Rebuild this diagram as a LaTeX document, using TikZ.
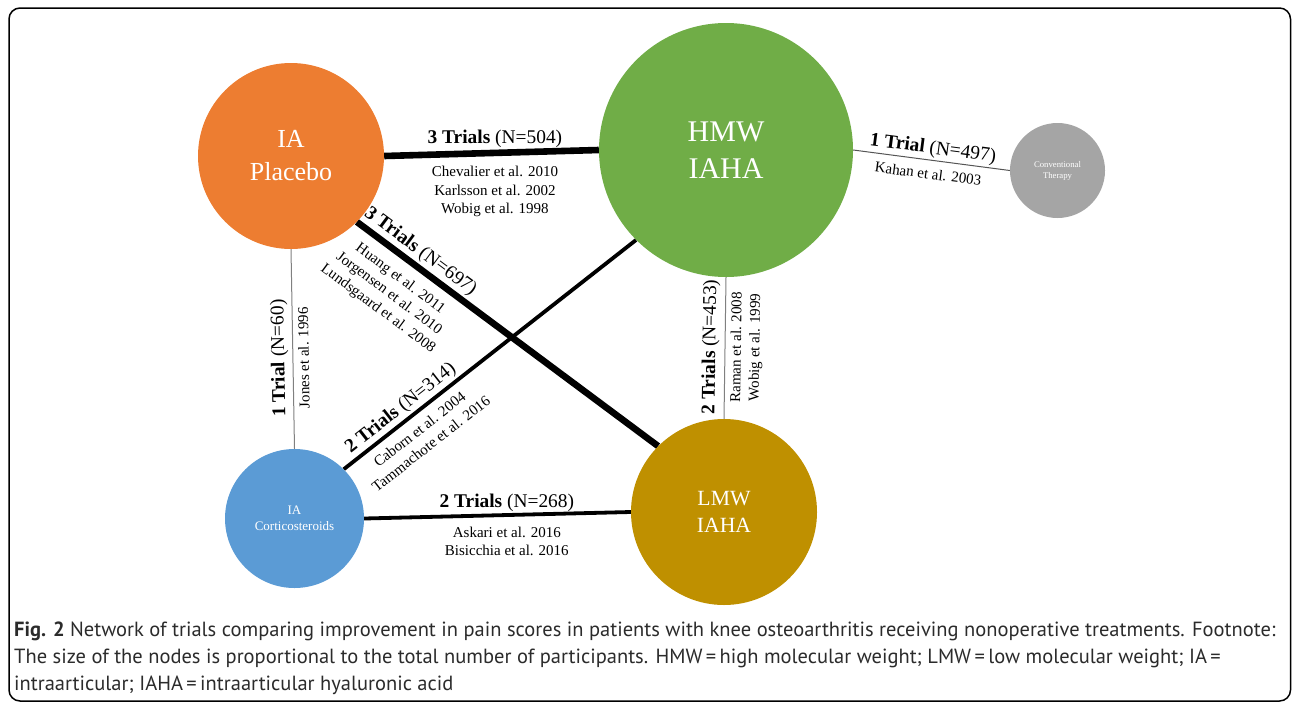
\documentclass[tikz,border=0pt]{standalone}
\usepackage{fontspec}
\setmainfont{Liberation Serif}
\newfontfamily\capfont{PT Sans}
\definecolor{cplacebo}{HTML}{ED7D31}
\definecolor{chmw}{HTML}{70AD47}
\definecolor{cconv}{HTML}{A5A5A5}
\definecolor{ccort}{HTML}{5B9BD5}
\definecolor{clmw}{HTML}{BF9000}
\definecolor{captext}{HTML}{2B2B2B}
\definecolor{thinline}{HTML}{808080}
\definecolor{convline}{HTML}{555555}
\pgfdeclarelayer{bg}
\pgfsetlayers{bg,main}
\begin{document}
\begin{tikzpicture}[x=1pt,y=-1pt,
  bubble/.style={circle, fill=#1, draw=none, text=white, align=center, inner sep=0pt},
  heavy/.style={line width=6.6pt, black},
  medium/.style={line width=3.8pt, black},
  light/.style={line width=1pt, thinline},
  trial/.style={font=\fontsize{19.4}{23}\selectfont, text=black, inner sep=0pt},
  cite/.style={font=\fontsize{15}{18.5}\selectfont, text=black, align=center, inner sep=0pt},
  capline/.style={font=\capfont\fontsize{20.5}{27}\selectfont, text=captext, inner sep=0pt, anchor=base west}
]
\useasboundingbox (0,0) rectangle (1292,702);
% outer frame
\draw[line width=1.5pt, rounded corners=11pt] (9,8) rectangle (1290.5,701);

% treatment nodes
\node[bubble=cplacebo, minimum size=186pt, font=\fontsize{26}{33}\selectfont] (pl) at (291,156) {IA\\Placebo};
\node[bubble=chmw, minimum size=254pt, font=\fontsize{30}{37}\selectfont] (hmw) at (726,150) {HMW\\IAHA};
\node[bubble=cconv, minimum size=95pt, font=\fontsize{8.7}{11}\selectfont] (conv) at (1057.5,170.5) {Conventional\\Therapy};
\node[bubble=ccort, minimum size=139pt, font=\fontsize{13}{16}\selectfont] (cort) at (294.5,518.5) {IA\\Corticosteroids};
\node[bubble=clmw, minimum size=186pt, font=\fontsize{21.7}{27}\selectfont] (lmw) at (724,512) {LMW\\IAHA};

\begin{pgfonlayer}{bg}
% IA placebo -- HMW IAHA
\draw[heavy] (pl.east) --
  node[trial, above=2pt, pos=.516] {\textbf{3 Trials} (N=504)}
  node[cite, below=10pt, pos=.516] {Chevalier et al. 2010\\Karlsson et al. 2002\\Wobig et al. 1998}
  (hmw.west);
% HMW IAHA -- conventional therapy
\draw[line width=1pt, convline] (hmw.east) --
  node[trial, sloped, above=2pt, pos=.5] {\textbf{1 Trial} (N=497)}
  node[cite, sloped, below=8pt, pos=.49] {Kahan et al. 2003}
  (conv.west);
% IA placebo -- LMW IAHA
\draw[heavy] (pl.south east) --
  node[trial, sloped, above=2pt, pos=.183] {\textbf{3 Trials} (N=697)}
  node[cite, sloped, below=10pt, pos=.183] {Huang et al. 2011\\Jorgensen et al. 2010\\Lundsgaard et al. 2008}
  (lmw.north west);
% IA corticosteroids -- HMW IAHA
\draw[medium] (cort.north east) --
  node[trial, sloped, above=2pt, pos=.222] {\textbf{2 Trials} (N=314)}
  node[cite, sloped, below=8pt, pos=.227] {Caborn et al. 2004\\Tammachote et al. 2016}
  (hmw.south west);
% IA corticosteroids -- IA placebo (labels read upwards)
\draw[light] (cort.north) --
  node[trial, sloped, allow upside down, above=4pt, pos=.455] {\textbf{1 Trial} (N=60)}
  node[cite, sloped, allow upside down, below=5pt, pos=.455] {Jones et al. 1996}
  (pl.south);
% LMW IAHA -- HMW IAHA
\draw[light] (lmw.north) --
  node[trial, sloped, above=5pt, pos=.507] {\textbf{2 Trials} (N=453)}
  node[cite, sloped, below=5pt, pos=.507] {Raman et al. 2008\\Wobig et al. 1999}
  (hmw.south);
% IA corticosteroids -- LMW IAHA
\draw[medium] (cort.east) --
  node[trial, above=2pt, pos=.535] {\textbf{2 Trials} (N=268)}
  node[cite, below=10pt, pos=.535] {Askari et al. 2016\\Bisicchia et al. 2016}
  (lmw.west);
\end{pgfonlayer}

% caption
\node[capline] (cap1) at (14,636) {\textbf{Fig. 2} Network of trials comparing improvement in pain scores in patients with knee osteoarthritis receiving nonoperative treatments. Footnote:};
\node[capline] (cap2) at (14,663) {The size of the nodes is proportional to the total number of participants. HMW\,=\,high molecular weight; LMW\,=\,low molecular weight; IA\,=};
\node[capline] (cap3) at (14,690) {intraarticular; IAHA\,=\,intraarticular hyaluronic acid};
\end{tikzpicture}
\end{document}
